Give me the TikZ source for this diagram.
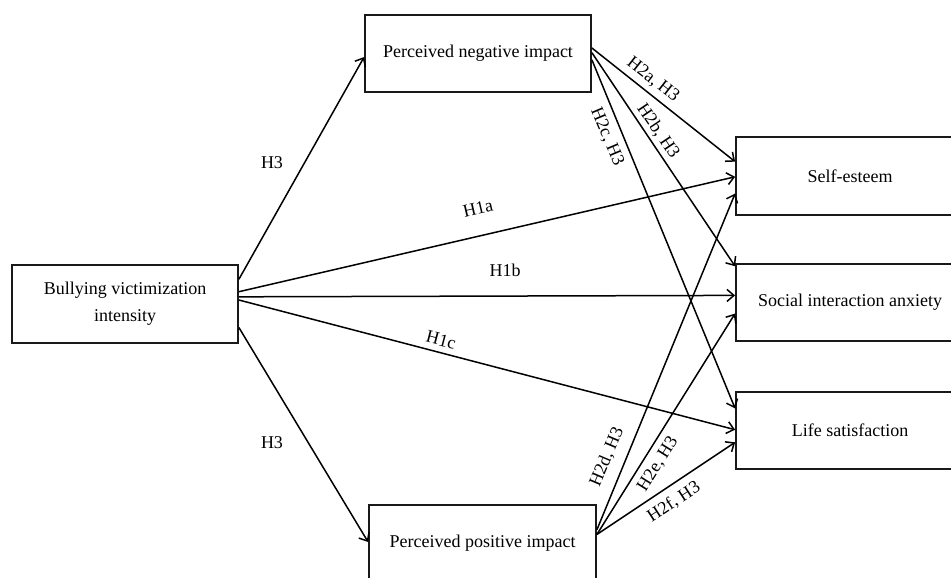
\documentclass[tikz,border=0pt]{standalone}
\usepackage{fontspec}
\setmainfont{Liberation Serif}
\usetikzlibrary{arrows.meta,calc}
\begin{document}
\begin{tikzpicture}[x=1pt,y=-1pt,
  box/.style={draw=black!90, line width=1.8pt, fill=white, inner sep=0pt, align=center,
    font=\fontsize{18}{27}\selectfont, text=black},
  conn/.style={draw=black, line width=1.5pt, -{Straight Barb[length=7pt,width=12pt,line width=1.5pt]}},
  lab/.style={font=\fontsize{18}{22}\selectfont, text=black, inner sep=0pt}]
\useasboundingbox (0,0) rectangle (951,578);
\fill[white] (0,0) rectangle (951,578);

% boxes
\node[box, minimum width=226pt, minimum height=78pt] (bully) at (125,304) {Bullying victimization\\intensity};
\node[box, minimum width=226pt, minimum height=77pt] (neg) at (478,53.5) {Perceived negative impact};
\node[box, minimum width=227pt, minimum height=76pt] (pos) at (482.5,543) {Perceived positive impact};
\node[box, minimum width=228pt, minimum height=78pt] (self) at (850,176) {Self-esteem};
\node[box, minimum width=228pt, minimum height=77pt] (soc) at (850,302.5) {Social interaction anxiety};
\node[box, minimum width=228pt, minimum height=77pt] (life) at (850,430.5) {Life satisfaction};

% attachment points
\coordinate (bN) at ($(bully.north east)!0.19!(bully.south east)$);
\coordinate (bA) at ($(bully.north east)!0.346!(bully.south east)$);
\coordinate (bB) at ($(bully.north east)!0.41!(bully.south east)$);
\coordinate (bC) at ($(bully.north east)!0.45!(bully.south east)$);
\coordinate (bP) at ($(bully.north east)!0.795!(bully.south east)$);

\coordinate (nIn) at ($(neg.north west)!0.545!(neg.south west)$);
\coordinate (nA) at ($(neg.north east)!0.43!(neg.south east)$);
\coordinate (nB) at ($(neg.north east)!0.49!(neg.south east)$);
\coordinate (nC) at ($(neg.north east)!0.58!(neg.south east)$);

\coordinate (pIn) at ($(pos.north west)!0.487!(pos.south west)$);
\coordinate (pD) at ($(pos.north east)!0.33!(pos.south east)$);
\coordinate (pE) at ($(pos.north east)!0.39!(pos.south east)$);

\coordinate (sA) at ($(self.north west)!0.32!(self.south west)$);
\coordinate (s1) at ($(self.north west)!0.51!(self.south west)$);
\coordinate (sD) at ($(self.north west)!0.72!(self.south west)$);

\coordinate (oB) at ($(soc.north west)!0.04!(soc.south west)$);
\coordinate (o1) at ($(soc.north west)!0.41!(soc.south west)$);
\coordinate (oE) at ($(soc.north west)!0.64!(soc.south west)$);

\coordinate (lC) at ($(life.north west)!0.22!(life.south west)$);
\coordinate (l1) at ($(life.north west)!0.49!(life.south west)$);
\coordinate (lF) at ($(life.north west)!0.65!(life.south west)$);

% connectors
\draw[conn] (bN) -- (nIn);
\draw[conn] (bP) -- (pIn);
\draw[conn] (bA) -- (s1);
\draw[conn] (bB) -- (o1);
\draw[conn] (bC) -- (l1);
\draw[conn] (nA) -- (sA);
\draw[conn] (nB) -- (oB);
\draw[conn] (nC) -- (lC);
\draw[conn] (pD) -- (sD);
\draw[conn] (pE) -- (oE);
\draw[conn] (pE) -- (lF);

% labels
\node[lab] (h3u) at (272,163) {H3};
\node[lab] (h3d) at (272,443) {H3};
\node[lab, rotate=13] (h1a) at (478,208) {H1a};
\node[lab] (h1b) at (505,270) {H1b};
\node[lab, rotate=-14.6] (h1c) at (441,340) {H1c};
\node[lab, rotate=-38] (h2a) at (653,80) {H2a, H3};
\node[lab, rotate=-56] (h2b) at (658,131) {H2b, H3};
\node[lab, rotate=-67] (h2c) at (607,137) {H2c, H3};
\node[lab, rotate=67] (h2d) at (607,457) {H2d, H3};
\node[lab, rotate=58] (h2e) at (658,464) {H2e, H3};
\node[lab, rotate=33] (h2f) at (674,502) {H2f, H3};
\end{tikzpicture}
\end{document}
